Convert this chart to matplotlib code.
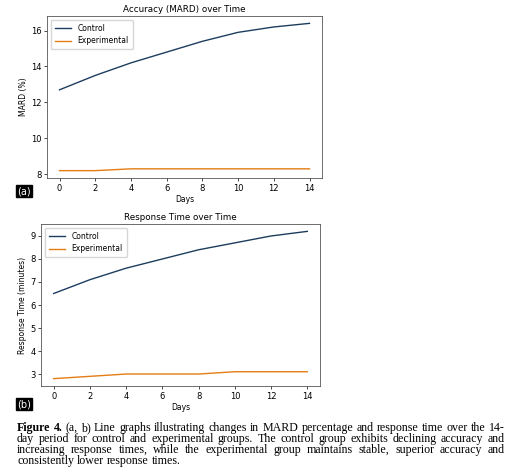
import matplotlib
matplotlib.use("Agg")
import matplotlib.pyplot as plt

# ---- data ----
days = [0, 2, 4, 6, 8, 10, 12, 14]
mard_control = [12.7, 13.5, 14.2, 14.8, 15.4, 15.9, 16.2, 16.4]
mard_experimental = [8.2, 8.2, 8.3, 8.3, 8.3, 8.3, 8.3, 8.3]
resp_control = [6.5, 7.1, 7.6, 8.0, 8.4, 8.7, 9.0, 9.2]
resp_experimental = [2.8, 2.9, 3.0, 3.0, 3.0, 3.1, 3.1, 3.1]
day_ticks = [0, 2, 4, 6, 8, 10, 12, 14]

caption_lines = [
    "Figure 4. (a, b) Line graphs illustrating changes in MARD percentage and response time over the 14-",
    "day period for control and experimental groups. The control group exhibits declining accuracy and",
    "increasing response times, while the experimental group maintains stable, superior accuracy and",
    "consistently lower response times.",
]

C_CTRL = "#1d3d5e"
C_EXP = "#e47c14"

W, H = 520, 473
fig = plt.figure(figsize=(W / 100, H / 100), dpi=100)


def panel(rect, ctrl, exp, title, ylabel, yticks):
    ax = fig.add_axes(rect)
    ax.plot(days, ctrl, color=C_CTRL, lw=1.0, label="Control")
    ax.plot(days, exp, color=C_EXP, lw=1.0, label="Experimental")
    ax.set_title(title, fontsize=6.3, pad=3)
    ax.set_xlabel("Days", fontsize=5.5, labelpad=2)
    ax.set_ylabel(ylabel, fontsize=5.5, labelpad=2)
    ax.set_xticks(day_ticks)
    ax.set_yticks(yticks)
    ax.tick_params(labelsize=6, length=2.5, width=0.5, pad=1.5)
    for s in ax.spines.values():
        s.set_linewidth(0.6)
        s.set_color("#555555")
    ax.legend(loc="upper left", fontsize=5.5, frameon=True, handlelength=2.2,
              borderpad=0.5, labelspacing=0.5)
    return ax


panel([47 / W, 1 - 178 / H, 275 / W, 162 / H], mard_control, mard_experimental,
      "Accuracy (MARD) over Time", "MARD (%)", [8, 10, 12, 14, 16])
panel([41 / W, 1 - 386 / H, 279 / W, 162 / H], resp_control, resp_experimental,
      "Response Time over Time", "Response Time (minutes)", [3, 4, 5, 6, 7, 8, 9])

for lab, y in [("(a)", 191), ("(b)", 404)]:
    fig.text(24 / W, 1 - y / H, lab, fontsize=7, color="white", ha="center", va="center",
             bbox=dict(boxstyle="square,pad=0.15", fc="black", ec="black"))

# ---- justified caption ----
renderer = fig.canvas.get_renderer()
x0, x1 = 17, 505
fs = 8.6
base_y = [431, 442, 453, 464]


def word_width(w, bold=False):
    t = fig.text(0, 0, w, fontsize=fs, family="Liberation Serif",
                 fontweight="bold" if bold else "normal")
    bb = t.get_window_extent(renderer)
    t.remove()
    return bb.width


space_w = word_width("a b") - word_width("ab")
for i, line in enumerate(caption_lines):
    words = line.split(" ")
    bolds = [i == 0 and j < 2 for j in range(len(words))]
    widths = [word_width(w, b) for w, b in zip(words, bolds)]
    if i < len(caption_lines) - 1:
        gap = (x1 - x0 - sum(widths)) / (len(words) - 1)
    else:
        gap = space_w
    x = x0
    for w, b, wd in zip(words, bolds, widths):
        fig.text(x / W, 1 - base_y[i] / H, w, fontsize=fs, family="Liberation Serif",
                 fontweight="bold" if b else "normal", va="baseline", ha="left")
        x += wd + gap

fig.savefig("out.png", dpi=100)
